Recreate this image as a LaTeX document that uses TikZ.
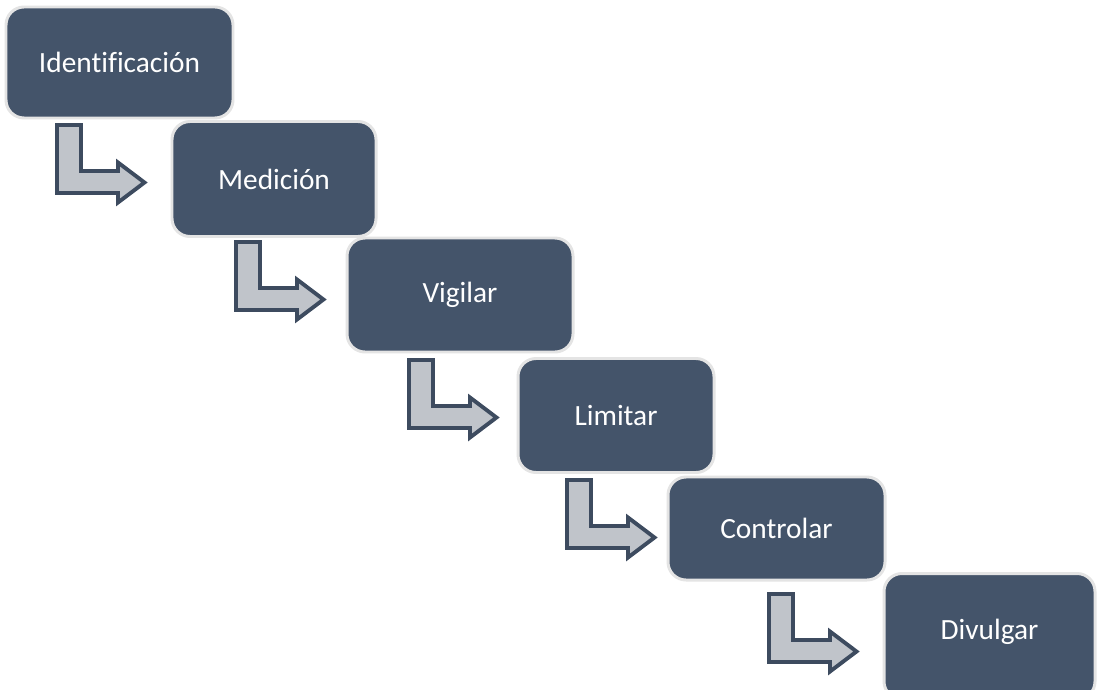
\documentclass[tikz,border=0pt]{standalone}
\usepackage{fontspec}
\setmainfont{Carlito}[Ligatures=NoCommon]
\definecolor{slate}{HTML}{44546A}
\definecolor{edge}{HTML}{3D4B5F}
\definecolor{rim}{HTML}{E4E4E4}
\definecolor{arrowfill}{HTML}{C0C4CA}
\begin{document}
\begin{tikzpicture}[x=0.02cm,y=-0.02cm,
  stepbox/.style={rectangle, rounded corners=0.36cm, draw=rim, line width=1.7pt,
    fill=slate, text=white, inner sep=0pt,
    font=\fontsize{16.7pt}{20pt}\selectfont},
  bentarrow/.pic={
    \draw[fill=arrowfill, draw=edge, line width=2.2pt, line join=miter]
      (2,2) -- (26,2) -- (26,48) -- (63,48) -- (63,39.5)
      -- (89.5,59.5) -- (63,79.5) -- (63,70) -- (2,70) -- cycle;
  }]
\useasboundingbox (0,0) rectangle (1097,689);

% process steps
\node[stepbox, minimum width=227*0.02cm, minimum height=111*0.02cm] (ident) at (119.5,62.5) {Identificación};
\node[stepbox, minimum width=204*0.02cm, minimum height=115*0.02cm] (medic) at (274,179) {Medición};
\node[stepbox, minimum width=226*0.02cm, minimum height=114*0.02cm] (vigil) at (460,295) {Vigilar};
\node[stepbox, minimum width=196*0.02cm, minimum height=114*0.02cm] (limit) at (616,415.5) {Limitar};
\node[stepbox, minimum width=217*0.02cm, minimum height=103*0.02cm] (contr) at (776.5,528.5) {Controlar};
\node[stepbox, minimum width=211*0.02cm, minimum height=126*0.02cm] (divul) at (989.5,636.5) {};
\node[text=white, font=\fontsize{16.7pt}{20pt}\selectfont] (divtxt) at (989.5,632) {Divulgar};

% bent arrows between the steps
\pic at (55,123) {bentarrow};
\pic at (234,240) {bentarrow};
\pic at (407,358) {bentarrow};
\pic at (565,478) {bentarrow};
\pic at (767,592) {bentarrow};
\end{tikzpicture}
\end{document}
